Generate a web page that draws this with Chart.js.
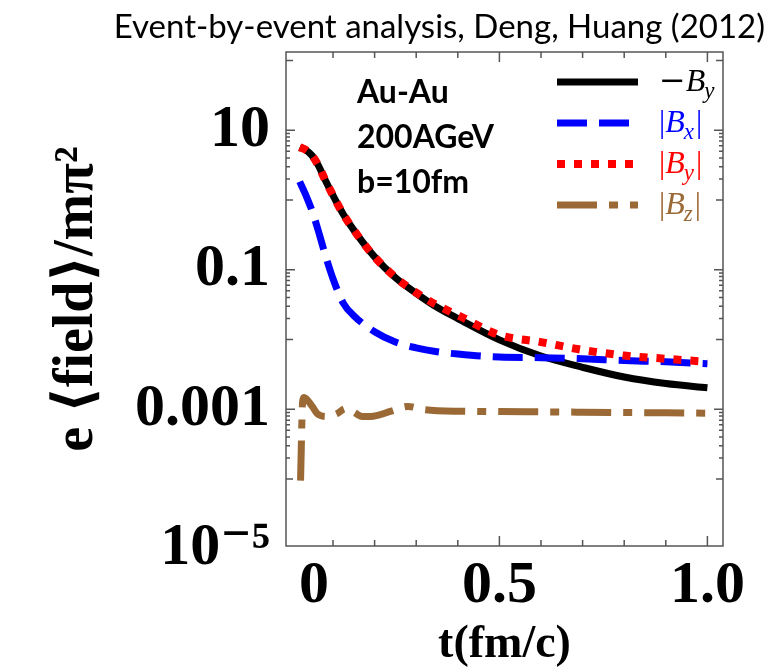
<!DOCTYPE html>
<html>
<head>
<meta charset="utf-8">
<script src="https://cdn.jsdelivr.net/npm/chart.js@4.4.0/dist/chart.umd.min.js"></script>
<style>
  html, body { margin: 0; padding: 0; background: #fff; }
</style>
</head>
<body>
<canvas id="fieldChart" width="775" height="667"></canvas>
<script>
// values (time in fm/c, field in m_pi^2)
const tMain = [0.02, 0.035, 0.05, 0.065, 0.08, 0.1, 0.125, 0.15, 0.2, 0.25, 0.3, 0.35, 0.4, 0.5, 0.6, 0.7, 0.8, 0.9, 1.0];
const minusBy = [5.7, 5.2, 4.3, 3.1, 2.0, 1.16, 0.62, 0.37, 0.153, 0.077, 0.046, 0.029, 0.020, 0.0099, 0.0058, 0.0040, 0.0029, 0.00234, 0.00204];
const absBy = [5.7, 5.2, 4.3, 3.1, 2.0, 1.16, 0.62, 0.37, 0.153, 0.078, 0.047, 0.031, 0.0224, 0.0116, 0.0092, 0.0071, 0.0059, 0.0053, 0.0048];
const absBx = [1.83, 1.16, 0.69, 0.357, 0.174, 0.0745, 0.033, 0.022, 0.0129, 0.0092, 0.0076, 0.0067, 0.0062, 0.0056, 0.0055, 0.0053, 0.0050, 0.0048, 0.0045];
const tBz = [0.022, 0.027, 0.03, 0.05, 0.062, 0.086, 0.11, 0.13, 0.15, 0.17, 0.19, 0.24, 0.28, 0.315, 0.4, 0.5, 0.6, 0.7, 0.8, 0.9, 1.0];
const absBz = [9.5e-5, 0.0013, 0.00148, 0.0011, 0.00087, 0.00079, 0.00087, 0.00102, 0.00091, 0.00079, 0.00079, 0.00094, 0.0011, 0.00100, 0.00094, 0.00093, 0.00092, 0.00091, 0.0009, 0.00089, 0.00088];

const xTickValues = [0, 0.5, 1.0];
const xTickLabels = ['   0', '0.5', '1.0'];
const yTickValues = [1e-5, 1e-3, 0.1, 10];
const yTickLabels = ['10\u207B\u2075', '0.001', '0.1', '10'];
const infoLines = ['Au-Au', '200AGeV', 'b=10fm'];

const pts = (ts, vs) => ts.map((t, i) => ({ x: t, y: vs[i] }));
const serifBold = (size) => ({ family: "'Liberation Serif', 'DejaVu Serif', serif", size: size, weight: 'bold' });

// frame + inward ticks, like the original plot
const frameTicks = {
  id: 'frameTicks',
  afterDatasetsDraw(chart) {
    const { ctx, chartArea: a, scales: { x, y } } = chart;
    ctx.save();
    ctx.strokeStyle = '#555';
    ctx.lineWidth = 1.5;
    ctx.strokeRect(a.left, a.top, a.right - a.left, a.bottom - a.top);
    ctx.beginPath();
    for (let i = 1; i <= 10; i++) {
      const px = x.getPixelForValue(i / 10);
      const len = i % 5 === 0 ? 10 : 6;
      ctx.moveTo(px, a.bottom); ctx.lineTo(px, a.bottom - len);
      ctx.moveTo(px, a.top); ctx.lineTo(px, a.top + len);
    }
    for (let e = -5; e <= 2; e++) {
      for (let m = 1; m <= 9; m++) {
        if (m > 1 && e % 2 !== 0) continue;
        const v = m * Math.pow(10, e);
        if (v < y.min || v > y.max) continue;
        const py = y.getPixelForValue(v);
        const len = m > 1 ? 4 : (e % 2 !== 0 ? 9 : 7);
        ctx.moveTo(a.left, py); ctx.lineTo(a.left + len, py);
        ctx.moveTo(a.right, py); ctx.lineTo(a.right - len, py);
      }
    }
    ctx.stroke();
    ctx.restore();
  }
};

// text block and legend inside the plot
const insideText = {
  id: 'insideText',
  afterDraw(chart) {
    const { ctx, chartArea: a } = chart;
    ctx.save();
    ctx.fillStyle = '#000';
    ctx.font = "bold 32px Lato, 'Liberation Sans', sans-serif";
    ctx.textBaseline = 'alphabetic';
    infoLines.forEach((s, i) => ctx.fillText(s, a.left + 71, a.top + 51 + i * 45));

    chart.data.datasets.forEach((ds, i) => {
      const yy = a.top + 30 + i * 41;
      ctx.beginPath();
      ctx.strokeStyle = ds.borderColor;
      ctx.lineWidth = ds.borderWidth;
      ctx.setLineDash(ds.borderDash || []);
      ctx.moveTo(a.right - 166, yy);
      ctx.lineTo(a.right - 85, yy);
      ctx.stroke();
      ctx.setLineDash([]);
      const m = ds.label.match(/^(.*?)B_(\w)(.*)$/);
      let tx = a.right - 64;
      const base = yy + 9;
      ctx.fillStyle = ds.borderColor;
      ctx.font = "32px 'DejaVu Serif', serif";
      if (m[1] === '|') ctx.font = "31px 'Liberation Serif', serif";
      ctx.fillText(m[1], tx, base); tx += ctx.measureText(m[1]).width;
      ctx.font = "italic 32px 'Liberation Serif', serif";
      ctx.fillText('B', tx, base); tx += ctx.measureText('B').width;
      ctx.font = "italic 23px 'Liberation Serif', serif";
      ctx.fillText(m[2], tx - 1, base + 7); tx += ctx.measureText(m[2]).width + 1;
      ctx.font = "31px 'Liberation Serif', serif";
      ctx.fillText(m[3], tx, base);
    });
    ctx.restore();
  }
};

const fieldChart = new Chart(document.getElementById('fieldChart'), {
  type: 'line',
  data: {
    datasets: [
      { label: '\u2212B_y', data: pts(tMain, minusBy), borderColor: '#000000', borderWidth: 7, order: 2 },
      { label: '|B_x|', data: pts(tMain, absBx), borderColor: '#0000ff', borderWidth: 7, borderDash: [30, 12], order: 1 },
      { label: '|B_y|', data: pts(tMain, absBy), borderColor: '#ff0000', borderWidth: 8, borderDash: [8, 9], order: 0 },
      { label: '|B_z|', data: pts(tBz, absBz), borderColor: '#9b6935', borderWidth: 7, borderDash: [40, 12, 9, 12], order: 3 }
    ]
  },
  options: {
    responsive: false,
    animation: false,
    elements: { point: { radius: 0 }, line: { cubicInterpolationMode: 'monotone', borderCapStyle: 'butt', fill: false } },
    layout: { padding: { left: 44, right: 10, top: 0, bottom: 0 } },
    plugins: {
      legend: { display: false },
      tooltip: { enabled: false },
      title: {
        display: true,
        text: 'Event-by-event analysis, Deng, Huang (2012)',
        align: 'end',
        color: '#000',
        font: { family: "Lato, 'Liberation Sans', sans-serif", size: 33, weight: 'normal' },
        padding: { top: 2, bottom: 5 }
      }
    },
    scales: {
      x: {
        type: 'linear',
        min: -0.013,
        max: 1.0375,
        afterBuildTicks: (s) => { s.ticks = xTickValues.map(v => ({ value: v })); },
        afterFit: (s) => { s.height = 121; },
        ticks: {
          callback: (v, i) => xTickLabels[i],
          font: serifBold(60),
          color: '#000',
          padding: 4,
          maxRotation: 0,
          autoSkip: false
        },
        grid: { display: false, drawTicks: false },
        border: { display: false },
        title: { display: true, text: 't(fm/c)', color: '#000', font: serifBold(46), padding: { top: 0, bottom: -6 } }
      },
      y: {
        type: 'logarithmic',
        min: 1.1e-5,
        max: 132,
        afterBuildTicks: (s) => { s.ticks = yTickValues.map(v => ({ value: v })); },
        afterFit: (s) => { s.width = 242; },
        ticks: {
          callback: (v, i) => yTickLabels[i],
          font: serifBold(60),
          color: '#000',
          padding: 16,
          autoSkip: false
        },
        grid: { display: false, drawTicks: false },
        border: { display: false },
        title: { display: true, text: 'e \u27E8field\u27E9/m\u03C0\u00B2', color: '#000', font: serifBold(56), padding: 0 }
      },
      yRight: {
        type: 'linear',
        position: 'right',
        display: true,
        afterFit: (s) => { s.width = 42; },
        ticks: { display: false },
        grid: { display: false, drawTicks: false },
        border: { display: false }
      }
    }
  },
  plugins: [frameTicks, insideText]
});
</script>
</body>
</html>
